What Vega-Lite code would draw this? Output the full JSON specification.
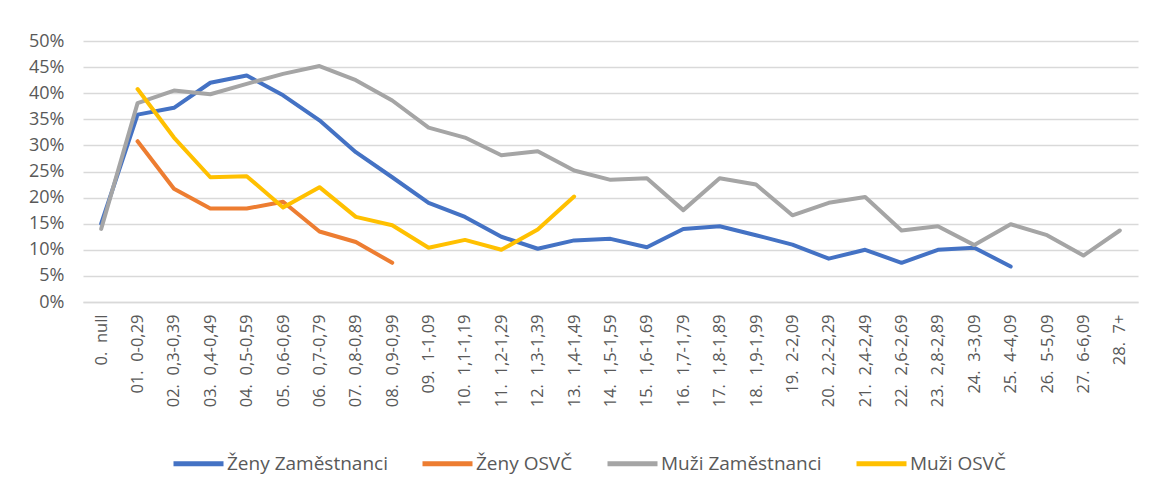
{
  "$schema": "https://vega.github.io/schema/vega-lite/v6.json",
  "width": 1055,
  "height": 261,
  "autosize": {"type": "none"},
  "padding": {"left": 83, "top": 41, "right": 15, "bottom": 189},
  "background": "white",
  "data": {
    "values": [
      {"k": "0.\u00a0 null", "s": "Ženy Zaměstnanci", "v": 0.150},
      {"k": "01.\u00a0 0-0,29", "s": "Ženy Zaměstnanci", "v": 0.359},
      {"k": "02.\u00a0 0,3-0,39", "s": "Ženy Zaměstnanci", "v": 0.372},
      {"k": "03.\u00a0 0,4-0,49", "s": "Ženy Zaměstnanci", "v": 0.420},
      {"k": "04.\u00a0 0,5-0,59", "s": "Ženy Zaměstnanci", "v": 0.434},
      {"k": "05.\u00a0 0,6-0,69", "s": "Ženy Zaměstnanci", "v": 0.396},
      {"k": "06.\u00a0 0,7-0,79", "s": "Ženy Zaměstnanci", "v": 0.348},
      {"k": "07.\u00a0 0,8-0,89", "s": "Ženy Zaměstnanci", "v": 0.287},
      {"k": "08.\u00a0 0,9-0,99", "s": "Ženy Zaměstnanci", "v": 0.239},
      {"k": "09.\u00a0 1-1,09", "s": "Ženy Zaměstnanci", "v": 0.190},
      {"k": "10.\u00a0 1,1-1,19", "s": "Ženy Zaměstnanci", "v": 0.163},
      {"k": "11.\u00a0 1,2-1,29", "s": "Ženy Zaměstnanci", "v": 0.125},
      {"k": "12.\u00a0 1,3-1,39", "s": "Ženy Zaměstnanci", "v": 0.102},
      {"k": "13.\u00a0 1,4-1,49", "s": "Ženy Zaměstnanci", "v": 0.118},
      {"k": "14.\u00a0 1,5-1,59", "s": "Ženy Zaměstnanci", "v": 0.121},
      {"k": "15.\u00a0 1,6-1,69", "s": "Ženy Zaměstnanci", "v": 0.105},
      {"k": "16.\u00a0 1,7-1,79", "s": "Ženy Zaměstnanci", "v": 0.140},
      {"k": "17.\u00a0 1,8-1,89", "s": "Ženy Zaměstnanci", "v": 0.145},
      {"k": "18.\u00a0 1,9-1,99", "s": "Ženy Zaměstnanci", "v": 0.128},
      {"k": "19.\u00a0 2-2,09", "s": "Ženy Zaměstnanci", "v": 0.110},
      {"k": "20.\u00a0 2,2-2,29", "s": "Ženy Zaměstnanci", "v": 0.083},
      {"k": "21.\u00a0 2,4-2,49", "s": "Ženy Zaměstnanci", "v": 0.100},
      {"k": "22.\u00a0 2,6-2,69", "s": "Ženy Zaměstnanci", "v": 0.075},
      {"k": "23.\u00a0 2,8-2,89", "s": "Ženy Zaměstnanci", "v": 0.100},
      {"k": "24.\u00a0 3-3,09", "s": "Ženy Zaměstnanci", "v": 0.104},
      {"k": "25.\u00a0 4-4,09", "s": "Ženy Zaměstnanci", "v": 0.068},

      {"k": "01.\u00a0 0-0,29", "s": "Ženy OSVČ", "v": 0.308},
      {"k": "02.\u00a0 0,3-0,39", "s": "Ženy OSVČ", "v": 0.217},
      {"k": "03.\u00a0 0,4-0,49", "s": "Ženy OSVČ", "v": 0.179},
      {"k": "04.\u00a0 0,5-0,59", "s": "Ženy OSVČ", "v": 0.179},
      {"k": "05.\u00a0 0,6-0,69", "s": "Ženy OSVČ", "v": 0.192},
      {"k": "06.\u00a0 0,7-0,79", "s": "Ženy OSVČ", "v": 0.135},
      {"k": "07.\u00a0 0,8-0,89", "s": "Ženy OSVČ", "v": 0.115},
      {"k": "08.\u00a0 0,9-0,99", "s": "Ženy OSVČ", "v": 0.075},

      {"k": "0.\u00a0 null", "s": "Muži Zaměstnanci", "v": 0.140},
      {"k": "01.\u00a0 0-0,29", "s": "Muži Zaměstnanci", "v": 0.381},
      {"k": "02.\u00a0 0,3-0,39", "s": "Muži Zaměstnanci", "v": 0.405},
      {"k": "03.\u00a0 0,4-0,49", "s": "Muži Zaměstnanci", "v": 0.398},
      {"k": "04.\u00a0 0,5-0,59", "s": "Muži Zaměstnanci", "v": 0.418},
      {"k": "05.\u00a0 0,6-0,69", "s": "Muži Zaměstnanci", "v": 0.437},
      {"k": "06.\u00a0 0,7-0,79", "s": "Muži Zaměstnanci", "v": 0.452},
      {"k": "07.\u00a0 0,8-0,89", "s": "Muži Zaměstnanci", "v": 0.425},
      {"k": "08.\u00a0 0,9-0,99", "s": "Muži Zaměstnanci", "v": 0.386},
      {"k": "09.\u00a0 1-1,09", "s": "Muži Zaměstnanci", "v": 0.334},
      {"k": "10.\u00a0 1,1-1,19", "s": "Muži Zaměstnanci", "v": 0.315},
      {"k": "11.\u00a0 1,2-1,29", "s": "Muži Zaměstnanci", "v": 0.281},
      {"k": "12.\u00a0 1,3-1,39", "s": "Muži Zaměstnanci", "v": 0.289},
      {"k": "13.\u00a0 1,4-1,49", "s": "Muži Zaměstnanci", "v": 0.252},
      {"k": "14.\u00a0 1,5-1,59", "s": "Muži Zaměstnanci", "v": 0.234},
      {"k": "15.\u00a0 1,6-1,69", "s": "Muži Zaměstnanci", "v": 0.237},
      {"k": "16.\u00a0 1,7-1,79", "s": "Muži Zaměstnanci", "v": 0.176},
      {"k": "17.\u00a0 1,8-1,89", "s": "Muži Zaměstnanci", "v": 0.237},
      {"k": "18.\u00a0 1,9-1,99", "s": "Muži Zaměstnanci", "v": 0.225},
      {"k": "19.\u00a0 2-2,09", "s": "Muži Zaměstnanci", "v": 0.166},
      {"k": "20.\u00a0 2,2-2,29", "s": "Muži Zaměstnanci", "v": 0.190},
      {"k": "21.\u00a0 2,4-2,49", "s": "Muži Zaměstnanci", "v": 0.201},
      {"k": "22.\u00a0 2,6-2,69", "s": "Muži Zaměstnanci", "v": 0.137},
      {"k": "23.\u00a0 2,8-2,89", "s": "Muži Zaměstnanci", "v": 0.145},
      {"k": "24.\u00a0 3-3,09", "s": "Muži Zaměstnanci", "v": 0.109},
      {"k": "25.\u00a0 4-4,09", "s": "Muži Zaměstnanci", "v": 0.149},
      {"k": "26.\u00a0 5-5,09", "s": "Muži Zaměstnanci", "v": 0.128},
      {"k": "27.\u00a0 6-6,09", "s": "Muži Zaměstnanci", "v": 0.089},
      {"k": "28.\u00a0 7+", "s": "Muži Zaměstnanci", "v": 0.137},

      {"k": "01.\u00a0 0-0,29", "s": "Muži OSVČ", "v": 0.408},
      {"k": "02.\u00a0 0,3-0,39", "s": "Muži OSVČ", "v": 0.315},
      {"k": "03.\u00a0 0,4-0,49", "s": "Muži OSVČ", "v": 0.239},
      {"k": "04.\u00a0 0,5-0,59", "s": "Muži OSVČ", "v": 0.241},
      {"k": "05.\u00a0 0,6-0,69", "s": "Muži OSVČ", "v": 0.181},
      {"k": "06.\u00a0 0,7-0,79", "s": "Muži OSVČ", "v": 0.220},
      {"k": "07.\u00a0 0,8-0,89", "s": "Muži OSVČ", "v": 0.163},
      {"k": "08.\u00a0 0,9-0,99", "s": "Muži OSVČ", "v": 0.147},
      {"k": "09.\u00a0 1-1,09", "s": "Muži OSVČ", "v": 0.104},
      {"k": "10.\u00a0 1,1-1,19", "s": "Muži OSVČ", "v": 0.119},
      {"k": "11.\u00a0 1,2-1,29", "s": "Muži OSVČ", "v": 0.100},
      {"k": "12.\u00a0 1,3-1,39", "s": "Muži OSVČ", "v": 0.139},
      {"k": "13.\u00a0 1,4-1,49", "s": "Muži OSVČ", "v": 0.202}
    ]
  },
  "mark": {"type": "line", "strokeWidth": 4, "strokeCap": "round", "strokeJoin": "round"},
  "encoding": {
    "x": {
      "field": "k",
      "type": "nominal",
      "sort": "ascending",
      "scale": {"type": "point", "padding": 0.5},
      "axis": {
        "title": null,
        "labelAngle": 270,
        "labelAlign": "right",
        "labelBaseline": "middle",
        "labelPadding": 12,
        "labelFont": "Open Sans",
        "labelFontSize": 16.5,
        "labelColor": "#595959",
        "ticks": false,
        "domainColor": "#D9D9D9",
        "domainWidth": 1.5,
        "grid": false,
        "labelOverlap": false
      }
    },
    "y": {
      "field": "v",
      "type": "quantitative",
      "scale": {"domain": [0, 0.5], "nice": false},
      "axis": {
        "title": null,
        "format": ".0%",
        "values": [0, 0.05, 0.1, 0.15, 0.2, 0.25, 0.3, 0.35, 0.4, 0.45, 0.5],
        "domain": false,
        "ticks": false,
        "labelPadding": 19,
        "labelFont": "Open Sans",
        "labelFontSize": 18,
        "labelColor": "#595959",
        "gridColor": "#D9D9D9",
        "gridWidth": 1.5
      }
    },
    "color": {
      "field": "s",
      "type": "nominal",
      "scale": {
        "domain": ["Ženy Zaměstnanci", "Ženy OSVČ", "Muži Zaměstnanci", "Muži OSVČ"],
        "range": ["#4472C4", "#ED7D31", "#A5A5A5", "#FFC000"]
      },
      "legend": {
        "title": null,
        "orient": "none",
        "direction": "horizontal",
        "legendX": 88,
        "legendY": 395,
        "symbolType": "stroke",
        "symbolSize": 2500,
        "symbolStrokeWidth": 5,
        "labelFont": "Open Sans",
        "labelFontSize": 19,
        "labelColor": "#595959",
        "labelOffset": 1,
        "columnPadding": 24,
        "labelLimit": 400
      }
    }
  },
  "config": {
    "view": {"stroke": null}
  }
}
